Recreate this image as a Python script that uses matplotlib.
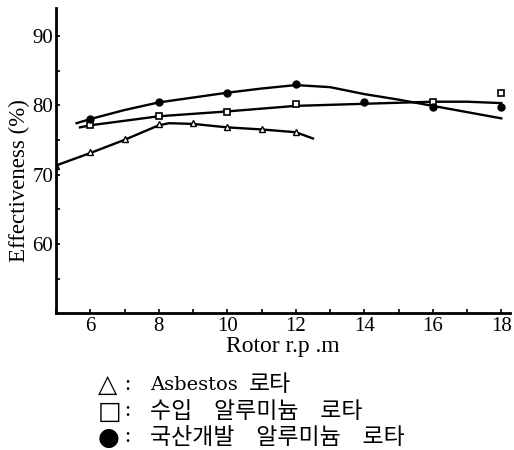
import matplotlib
matplotlib.use("Agg")
import matplotlib.pyplot as plt

# Marker data
rpm_asb = [5, 6, 7, 8, 9, 10, 11, 12]
eff_asb = [71.3, 73.2, 75.1, 77.3, 77.4, 76.8, 76.6, 76.2]

rpm_imp = [6, 8, 10, 12, 16, 18]
eff_imp = [77.2, 78.5, 79.0, 80.1, 80.5, 81.8]

rpm_dom = [6, 8, 10, 12, 14, 16, 18]
eff_dom = [78.0, 80.4, 81.7, 83.1, 80.5, 79.8, 79.7]

# Hand-drawn trend curves
curve_asb_x = [5, 6, 7, 8, 8.3, 9, 10, 11, 12, 12.5]
curve_asb_y = [71.3, 73.1, 75.0, 77.1, 77.4, 77.3, 76.8, 76.5, 76.1, 75.2]

curve_imp_x = [5.7, 6, 8, 10, 12, 14, 16, 17, 18]
curve_imp_y = [76.8, 77.1, 78.4, 79.1, 79.9, 80.2, 80.5, 80.5, 80.3]

curve_dom_x = [5.6, 6, 7, 8, 9, 10, 11, 12, 13, 14, 15, 16, 17, 18]
curve_dom_y = [77.4, 78.0, 79.3, 80.4, 81.1, 81.8, 82.4, 82.9, 82.6, 81.6, 80.8, 79.9, 79.0, 78.1]

xticks = [6, 8, 10, 12, 14, 16, 18]
yticks = [60, 70, 80, 90]

legend_marks = ["△", "□", "●"]
legend_labels = ["Asbestos   로타", "수입   알루미늄   로타", "국산개발   알루미늄   로타"]
legend_rows = [385, 412, 438]  # px from top

serif = ["Liberation Serif", "DejaVu Serif"]
kr = ["DejaVu Serif", "Noto Sans CJK KR", "DejaVu Sans"]

fig = plt.figure(figsize=(5.14, 4.5), dpi=100)
ax = fig.add_axes([0.109, 0.304, 0.883, 0.678])

ax.plot(curve_asb_x, curve_asb_y, color="black", lw=1.7)
ax.plot(curve_imp_x, curve_imp_y, color="black", lw=1.7)
ax.plot(curve_dom_x, curve_dom_y, color="black", lw=1.7)

ax.plot(rpm_asb, eff_asb, ls="none", marker="^", ms=5, mfc="white", mec="black", mew=1.0)
ax.plot(rpm_imp, eff_imp, ls="none", marker="s", ms=4.5, mfc="white", mec="black", mew=1.2)
ax.plot(rpm_dom, eff_dom, ls="none", marker="o", ms=5, mfc="black", mec="black")

ax.set_xlim(5, 18.25)
ax.set_ylim(50, 94)
ax.set_xticks(xticks)
ax.set_xticks(range(5, 19), minor=True)
ax.set_yticks(yticks)
ax.set_yticks(range(55, 95, 5), minor=True)
ax.set_xticklabels([str(v) for v in xticks], family=serif, fontsize=15)
ax.set_yticklabels([str(v) for v in yticks], family=serif, fontsize=15)
ax.tick_params(which="both", direction="in", length=3, width=1.2, pad=2)
ax.tick_params(axis="x", pad=3)

for side in ["top", "right"]:
    ax.spines[side].set_visible(False)
for side in ["left", "bottom"]:
    ax.spines[side].set_linewidth(2)

ax.set_ylabel("Effectiveness (%)", family=serif, fontsize=16.5)
ax.yaxis.set_label_coords(-0.058, 0.436)
ax.set_xlabel("Rotor r.p .m", family=serif, fontsize=17, labelpad=0)

# 범례 (그림 아래 텍스트)
for i, (mark, label, row) in enumerate(zip(legend_marks, legend_labels, legend_rows)):
    y = 1 - row / 450
    fig.text(98 / 514, y, mark, family="DejaVu Sans", fontsize=18, va="center")
    fig.text(124 / 514, y, ":", family=serif, fontsize=16, va="center")
    if i == 0:
        latin, hangul = label.split("   ")
        fig.text(150 / 514, y, latin, family=kr, fontsize=14, va="center")
        fig.text(249 / 514, y, hangul, family=kr, fontsize=16.5, va="center")
    else:
        fig.text(150 / 514, y, label, family=kr, fontsize=16.5, va="center")

fig.savefig("out.png", dpi=100)
